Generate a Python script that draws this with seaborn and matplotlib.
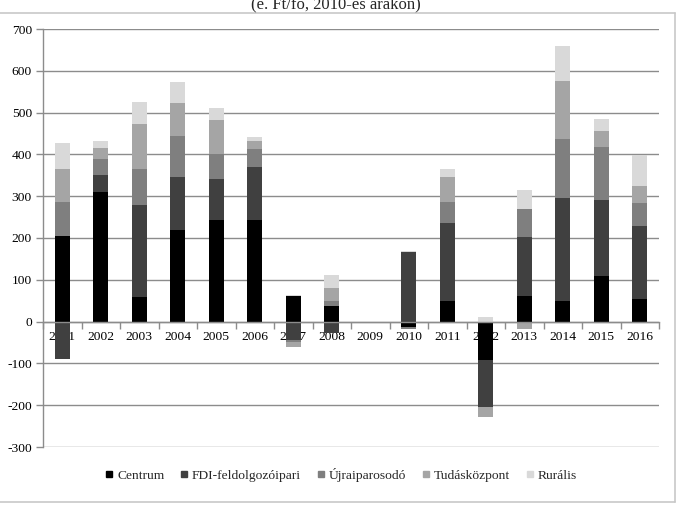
import numpy as np
import pandas as pd
import matplotlib
matplotlib.use("Agg")
import matplotlib.pyplot as plt
import seaborn as sns
from matplotlib.lines import Line2D

years = [str(y) for y in range(2001, 2017)]
centrum = [204, 311, 60, 218, 244, 244, 62, 37, 0, -14, 49, -93, 62, 49, 108, 53]
fdi = [-89, 40, 220, 129, 98, 127, -44, -27, 0, 166, 188, -111, 140, 246, 183, 176]
ujra = [83, 39, 85, 96, 58, 41, -4, 13, 0, -4, 48, 0, 67, 142, 127, 54]
tudas = [79, 26, 107, 79, 83, 20, -13, 30, 0, 0, 60, -24, -18, 139, 37, 42]
rural = [62, 16, 53, 52, 29, 9, 1, 31, 0, 4, 20, 11, 45, 83, 30, 74]

series_names = ["Centrum", "FDI-feldolgozóipari", "Újraiparosodó", "Tudásközpont", "Rurális"]
series_values = [centrum, fdi, ujra, tudas, rural]
colors = ["#000000", "#404040", "#7f7f7f", "#a5a5a5", "#d9d9d9"]
y_ticks = list(range(-300, 701, 100))
title = "(e. Ft/fő, 2010-es árakon)"

sns.set_theme(style="white")
plt.rcParams['font.family'] = ['Liberation Serif', 'DejaVu Serif']

W, H = 676, 505
fig = plt.figure(figsize=(W / 100, H / 100), dpi=100)
ax = fig.add_axes([43 / W, 1 - 447 / H, (659 - 43) / W, (447 - 29) / H])

grid_col = "#8c8c8c"
pos_bottom = np.zeros(len(years))
neg_bottom = np.zeros(len(years))
for name, vals, col in zip(series_names, series_values, colors):
    v = np.array(vals, dtype=float)
    bottom = np.where(v >= 0, pos_bottom, neg_bottom)
    df = pd.DataFrame({"year": years, "value": v})
    sns.barplot(data=df, x="year", y="value", order=years, color=col,
                saturation=1, width=0.4, errorbar=None, ax=ax,
                bottom=bottom, linewidth=0, zorder=2)
    pos_bottom += np.where(v > 0, v, 0)
    neg_bottom += np.where(v < 0, v, 0)

ax.set_xlim(-0.5, len(years) - 0.5)
ax.set_ylim(-300, 700)
ax.set_yticks(y_ticks)
ax.set_yticklabels([str(t) for t in y_ticks])
ax.set_xlabel("")
ax.set_ylabel("")
ax.yaxis.grid(True, color=grid_col, linewidth=1)
ax.xaxis.grid(False)
ax.set_axisbelow(True)

for s in ["top", "right"]:
    ax.spines[s].set_visible(False)
ax.spines["left"].set_color(grid_col)
ax.spines["left"].set_linewidth(1)
ax.spines["bottom"].set_position(("data", 0))
ax.spines["bottom"].set_color(grid_col)
ax.spines["bottom"].set_linewidth(1)
ax.spines["bottom"].set_zorder(3)

ax.tick_params(axis="y", which="major", length=5, width=1, color=grid_col,
               direction="out", labelsize=9.7, pad=3, left=True)
ax.set_xticks(np.arange(len(years)))
ax.set_xticklabels(years)
ax.set_xticks(np.arange(-0.5, len(years), 1.0), minor=True)
ax.tick_params(axis="x", which="major", length=0, labelsize=9.7, pad=7)
ax.tick_params(axis="x", which="minor", length=5, width=1, color=grid_col,
               direction="out", bottom=True)
for lbl in ax.get_xticklabels() + ax.get_yticklabels():
    lbl.set_color("#000000")

handles = [Line2D([0], [0], marker="s", linestyle="none", markersize=5,
                  markerfacecolor=c, markeredgecolor=c) for c in colors]
fig.legend(handles, series_names, loc="center", ncol=5, frameon=False,
           bbox_to_anchor=(341 / W, 1 - 475 / H), fontsize=9.7,
           handlelength=0.6, handletextpad=0.3, columnspacing=1.15)

fig.text(336 / W, 1 - 8 / H, title, ha="center", va="baseline", fontsize=12)

border = "#c8c8c8"
fig.add_artist(Line2D([0, 674.5 / W], [1 - 13 / H, 1 - 13 / H], transform=fig.transFigure, color=border, lw=1.2))
fig.add_artist(Line2D([674.5 / W, 674.5 / W], [1 - 13 / H, 1 - 502 / H], transform=fig.transFigure, color=border, lw=1.2))
fig.add_artist(Line2D([0, 674.5 / W], [1 - 502 / H, 1 - 502 / H], transform=fig.transFigure, color=border, lw=1.2))

fig.savefig("out.png", dpi=100)
